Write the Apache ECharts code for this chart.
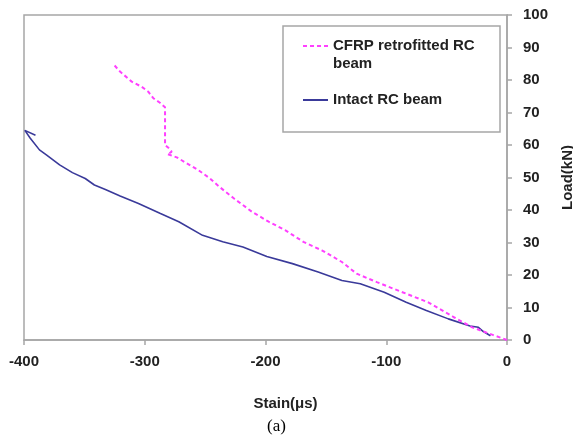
<!DOCTYPE html>
<html>
  <head>
    <meta charset="utf-8" />
    <title>Load vs strain</title>
    <script src="https://cdn.jsdelivr.net/npm/echarts@6/dist/echarts.min.js"></script>
    <style>
      body { margin: 0; background: #fff; }
      #chart { width: 573px; height: 442px; }
    </style>
  </head>
<body>
  <div id="chart"></div>
  <script type="text/javascript">
// strain (µs), load (kN)
var cfrpStrain = [0, -1.6, -11.3, -28.8, -44, -65.3, -86.6, -107.8, -124.5, -136.7, -153.4, -168.6, -183.8, -197.4, -211, -226.3, -238.4, -246, -255.7, -273.5, -281.3, -277.7, -279.1, -283.2, -283.2, -287.4, -292.9, -297.1, -302.5, -310.8, -320.5, -326];
var cfrpLoad   = [0, 0.2, 1.5, 3.9, 7, 11.6, 14.7, 17.8, 20.4, 24, 27.6, 30.2, 33.8, 36.4, 39.4, 43.6, 47.2, 49.7, 52.3, 56.2, 57.2, 57.9, 58.7, 60, 71.6, 73, 74.4, 76.4, 77.9, 79.5, 82.6, 84.9];

var intactStrain = [-13.7, -19.6, -23.7, -30.6, -48.6, -66.8, -83.5, -101.7, -121.5, -136.7, -156.4, -177.7, -198.9, -218.7, -235.4, -252.1, -271.8, -287, -305.2, -320.4, -332.6, -341.7, -349.3, -359.9, -370.5, -381.2, -387.2, -394.8, -399.3, -390.5];
var intactLoad   = [1.3, 2.6, 3.9, 4.3, 6.5, 9.1, 11.6, 14.7, 17.3, 18.3, 20.9, 23.5, 25.7, 28.6, 30.2, 32.2, 36.4, 38.9, 42, 44.3, 46.3, 47.7, 49.7, 51.5, 53.9, 56.9, 58.5, 62.1, 64.5, 63.0];

var seriesNames = ['CFRP retrofitted RC beam', 'Intact RC beam'];

function pairs(xs, ys) {
  return xs.map(function (x, i) { return [x, ys[i]]; });
}

var chart = echarts.init(document.getElementById('chart'));
var font = 'Liberation Sans, Arial, sans-serif';
var axisGrey = '#a6a6a6';

var option = {
  animation: false,
  title: {
    text: '(a)',
    left: 262,
    top: 413,
    textStyle: { fontFamily: 'Liberation Serif, serif', fontWeight: 'normal', fontSize: 17, color: '#000' }
  },
  grid: {
    left: 24, right: 66, top: 15, bottom: 102,
    outerBoundsMode: 'none',
    containLabel: false,
    show: true, borderColor: axisGrey, borderWidth: 1.5
  },
  graphic: [{
    type: 'rect',
    shape: { x: 283, y: 26, width: 217, height: 106 },
    style: { fill: '#fff', stroke: axisGrey, lineWidth: 1.5 },
    z: 0
  }],
  legend: {
    orient: 'vertical',
    left: 297,
    top: 14,
    itemWidth: 25,
    itemHeight: 14,
    itemGap: 18,
    z: 5,
    itemStyle: { opacity: 0 },
    textStyle: { fontFamily: font, fontWeight: 'bold', fontSize: 15, color: '#222', lineHeight: 18 },
    // empty first line keeps the icon level with the first text line
    formatter: function (name) {
      return name === seriesNames[0] ? ' \nCFRP retrofitted RC\nbeam' : name;
    },
    data: seriesNames
  },
  xAxis: {
    type: 'value',
    min: -400, max: 0, interval: 100,
    name: 'Stain(\u03bcs)',
    nameLocation: 'middle',
    nameGap: 56,
    nameTextStyle: { fontFamily: font, fontWeight: 'bold', fontSize: 15, color: '#222', padding: [0, 0, 0, 40] },
    axisLine: { onZero: false, lineStyle: { color: axisGrey, width: 1.5 } },
    axisTick: { inside: false, length: 5, lineStyle: { color: axisGrey, width: 1.5 } },
    axisLabel: { margin: 14, fontFamily: font, fontWeight: 'bold', fontSize: 15, color: '#222' },
    splitLine: { show: false }
  },
  yAxis: {
    type: 'value',
    position: 'right',
    min: 0, max: 100, interval: 10,
    name: 'Load(kN)',
    nameLocation: 'middle',
    nameRotate: 90,
    nameGap: 53,
    nameTextStyle: { fontFamily: font, fontWeight: 'bold', fontSize: 15, color: '#222' },
    axisLine: { show: true, onZero: false, lineStyle: { color: axisGrey, width: 1.5 } },
    axisTick: { show: true, length: 5, lineStyle: { color: axisGrey, width: 1.5 } },
    axisLabel: { margin: 16, fontFamily: font, fontWeight: 'bold', fontSize: 15, color: '#222' },
    splitLine: { show: false }
  },
  series: [
    {
      name: seriesNames[0],
      type: 'line',
      showSymbol: false,
      symbol: 'none',
      z: 3,
      lineStyle: { color: '#ff40ff', width: 2, type: [4, 3] },
      itemStyle: { color: '#ff40ff' },
      data: pairs(cfrpStrain, cfrpLoad)
    },
    {
      name: seriesNames[1],
      type: 'line',
      showSymbol: false,
      symbol: 'none',
      z: 2,
      lineStyle: { color: '#3a3a9a', width: 1.6 },
      itemStyle: { color: '#3a3a9a' },
      data: pairs(intactStrain, intactLoad)
    }
  ]
};

option && chart.setOption(option);
  </script>
</body>
</html>
